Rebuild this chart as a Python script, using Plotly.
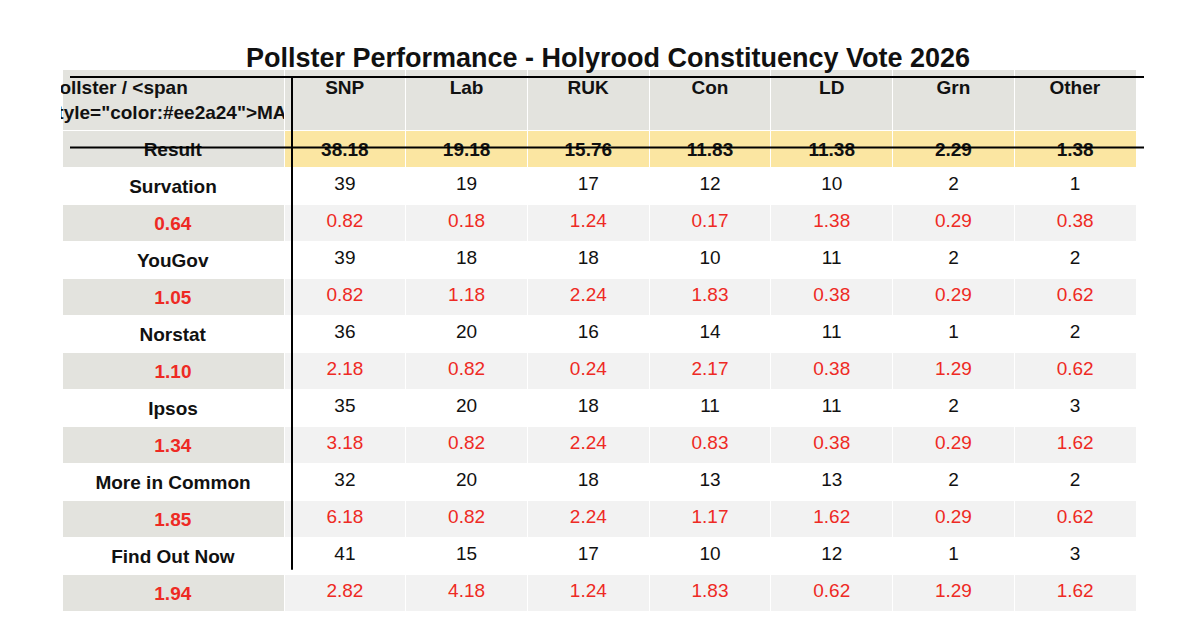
import plotly.graph_objects as go

parties = ["SNP", "Lab", "RUK", "Con", "LD", "Grn", "Other"]
result = ["38.18", "19.18", "15.76", "11.83", "11.38", "2.29", "1.38"]
pollsters = ["Survation", "YouGov", "Norstat", "Ipsos", "More in Common", "Find Out Now"]
mae = ["0.64", "1.05", "1.10", "1.34", "1.85", "1.94"]
polls = [
    [39, 19, 17, 12, 10, 2, 1],
    [39, 18, 18, 10, 11, 2, 2],
    [36, 20, 16, 14, 11, 1, 2],
    [35, 20, 18, 11, 11, 2, 3],
    [32, 20, 18, 13, 13, 2, 2],
    [41, 15, 17, 10, 12, 1, 3],
]
errors = [
    ["0.82", "0.18", "1.24", "0.17", "1.38", "0.29", "0.38"],
    ["0.82", "1.18", "2.24", "1.83", "0.38", "0.29", "0.62"],
    ["2.18", "0.82", "0.24", "2.17", "0.38", "1.29", "0.62"],
    ["3.18", "0.82", "2.24", "0.83", "0.38", "0.29", "1.62"],
    ["6.18", "0.82", "2.24", "1.17", "1.62", "0.29", "0.62"],
    ["2.82", "4.18", "1.24", "1.83", "0.62", "1.29", "1.62"],
]

RED = "#ee2a24"
GRAY = "#e3e3de"
LIGHT = "#f2f2f2"
YEL = "#fbe6a2"

col0 = ["<b>Result</b>"]
col0_fill = [GRAY]
col0_color = ["#111"]
for p, m in zip(pollsters, mae):
    col0 += [f"<b>{p}</b>", f"<b>{m}</b>"]
    col0_fill += ["white", GRAY]
    col0_color += ["#111", RED]

values = [col0]
fills = [col0_fill]
colors = [col0_color]
for j in range(len(parties)):
    c = [f"<b>{result[j]}</b>"]
    f = [YEL]
    k = ["#111"]
    for i in range(len(pollsters)):
        c += [str(polls[i][j]), errors[i][j]]
        f += ["white", LIGHT]
        k += ["#111", RED]
    values.append(c)
    fills.append(f)
    colors.append(k)

header = ['<b>Pollster / <span style="color:#ee2a24">MAE</span></b>'] + [f"<b>{p}</b>" for p in parties]

W, H = 1200, 618
x0, x1, xs = 62, 1136, 284
top, rowh = 69, 35.2
nrows = 14
bottom = top + rowh * nrows
off = 8  # table rendering offset

fig = go.Figure(go.Table(
    domain=dict(x=[(x0 - off) / W, (x1 - off) / W], y=[0, 1 - (top - off) / H]),
    columnwidth=[222] + [121.7] * 7,
    header=dict(values=header, fill_color=GRAY, align="center", height=rowh,
                line=dict(color="white", width=1),
                font=dict(family="Liberation Sans, Arial", size=19, color="#111")),
    cells=dict(values=values, fill_color=fills, align="center", height=rowh,
               line=dict(color="white", width=1),
               font=dict(family="Liberation Sans, Arial", size=19, color=colors)),
))

def yp(y):
    return 1 - y / H

fig.update_layout(
    width=W, height=H, margin=dict(l=0, r=0, t=0, b=0),
    paper_bgcolor="white",
    title=dict(text="<b>Pollster Performance - Holyrood Constituency Vote 2026</b>",
               x=0.5, xanchor="center", y=1 - 50 / H, yanchor="middle",
               font=dict(family="Liberation Sans, Arial", size=27, color="#111")),
    shapes=[
        dict(type="line", xref="paper", yref="paper", x0=x0 / W, x1=x1 / W,
             y0=yp(top), y1=yp(top), line=dict(color="black", width=2), layer="above"),
        dict(type="line", xref="paper", yref="paper", x0=x0 / W, x1=x1 / W,
             y0=yp(top + 2 * rowh), y1=yp(top + 2 * rowh), line=dict(color="black", width=2), layer="above"),
        dict(type="line", xref="paper", yref="paper", x0=xs / W, x1=xs / W,
             y0=yp(top), y1=yp(bottom), line=dict(color="black", width=2), layer="above"),
    ],
)

fig.write_html("out.html")
